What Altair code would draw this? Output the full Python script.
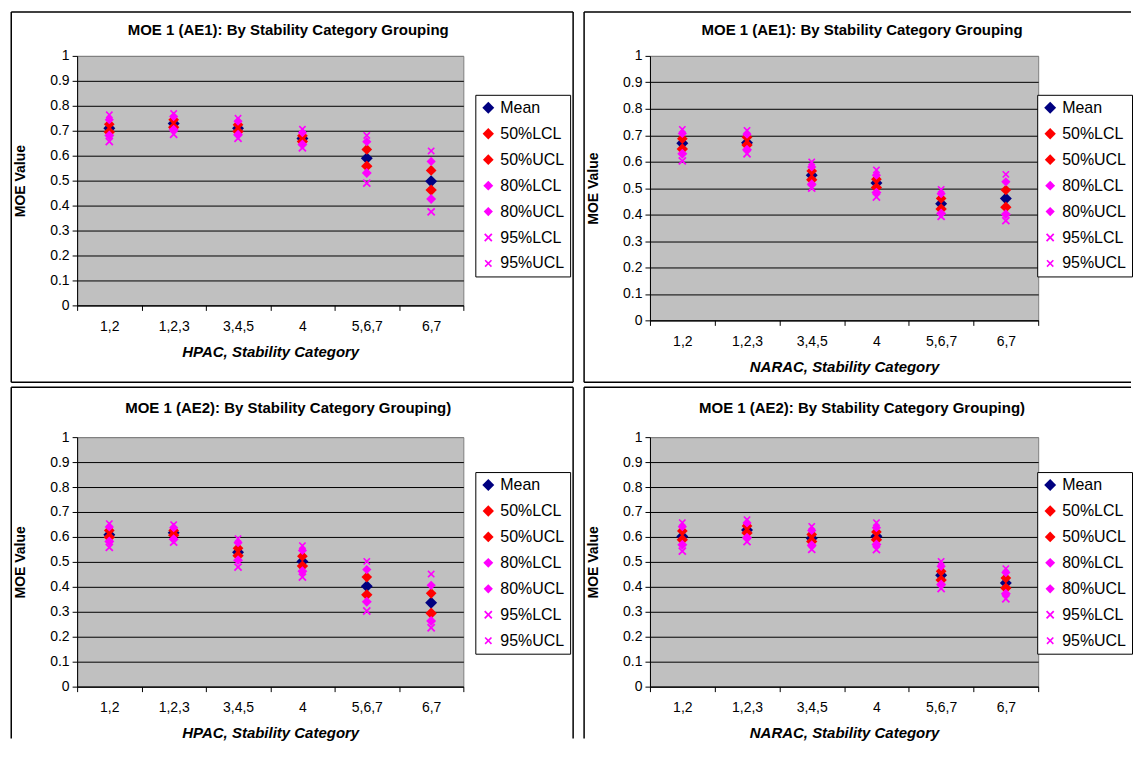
import altair as alt
import pandas as pd

CATS = ["1,2", "1,2,3", "3,4,5", "4", "5,6,7", "6,7"]
SERIES = ["Mean", "50%LCL", "50%UCL", "80%LCL", "80%UCL", "95%LCL", "95%UCL"]
COLORS = ["#000080", "#FF0000", "#FF0000", "#FF00FF", "#FF00FF", "#FF00FF", "#FF00FF"]
X_PATH = "M-0.7,-1L0,-0.3L0.7,-1L1,-0.7L0.3,0L1,0.7L0.7,1L0,0.3L-0.7,1L-1,0.7L-0.3,0L-1,-0.7Z"
SHAPES = ["diamond", "diamond", "diamond", "diamond", "diamond", X_PATH, X_PATH]
SIZES = [144, 56, 56, 28, 28, 36, 36]
Y_TICKS = [0, 0.1, 0.2, 0.3, 0.4, 0.5, 0.6, 0.7, 0.8, 0.9, 1]

HPAC_AE1 = {
    "Mean":   [0.710, 0.729, 0.710, 0.669, 0.590, 0.498],
    "50%LCL": [0.695, 0.714, 0.697, 0.657, 0.558, 0.462],
    "50%UCL": [0.726, 0.744, 0.724, 0.680, 0.625, 0.541],
    "80%LCL": [0.681, 0.704, 0.684, 0.645, 0.531, 0.426],
    "80%UCL": [0.744, 0.757, 0.738, 0.692, 0.656, 0.577],
    "95%LCL": [0.657, 0.686, 0.670, 0.632, 0.490, 0.375],
    "95%UCL": [0.764, 0.769, 0.750, 0.706, 0.681, 0.619],
}
NARAC_AE1 = {
    "Mean":   [0.670, 0.672, 0.549, 0.519, 0.441, 0.461],
    "50%LCL": [0.648, 0.663, 0.532, 0.502, 0.421, 0.428],
    "50%UCL": [0.687, 0.692, 0.565, 0.534, 0.461, 0.493],
    "80%LCL": [0.630, 0.645, 0.515, 0.483, 0.404, 0.401],
    "80%UCL": [0.707, 0.704, 0.580, 0.549, 0.479, 0.524],
    "95%LCL": [0.603, 0.630, 0.500, 0.466, 0.393, 0.377],
    "95%UCL": [0.722, 0.718, 0.599, 0.569, 0.495, 0.552],
}
HPAC_AE2 = {
    "Mean":   [0.609, 0.617, 0.539, 0.502, 0.402, 0.336],
    "50%LCL": [0.599, 0.607, 0.525, 0.483, 0.368, 0.294],
    "50%UCL": [0.626, 0.626, 0.555, 0.523, 0.439, 0.374],
    "80%LCL": [0.582, 0.591, 0.507, 0.462, 0.340, 0.263],
    "80%UCL": [0.640, 0.637, 0.577, 0.546, 0.469, 0.406],
    "95%LCL": [0.558, 0.579, 0.479, 0.439, 0.303, 0.236],
    "95%UCL": [0.653, 0.649, 0.593, 0.565, 0.502, 0.451],
}
NARAC_AE2 = {
    "Mean":   [0.602, 0.628, 0.595, 0.603, 0.446, 0.415],
    "50%LCL": [0.589, 0.616, 0.582, 0.589, 0.427, 0.395],
    "50%UCL": [0.624, 0.644, 0.610, 0.620, 0.462, 0.435],
    "80%LCL": [0.569, 0.597, 0.567, 0.570, 0.409, 0.372],
    "80%UCL": [0.641, 0.656, 0.626, 0.637, 0.482, 0.457],
    "95%LCL": [0.543, 0.581, 0.550, 0.549, 0.393, 0.352],
    "95%UCL": [0.657, 0.669, 0.642, 0.657, 0.502, 0.473],
}

FONT = "Liberation Sans"
ONE = pd.DataFrame({"k": [0]})


def seg(x0, x1, y0, y1):
    return alt.Chart(ONE).mark_rule(color="black", strokeWidth=1.5).encode(
        x=alt.value(x0), x2=alt.value(x1), y=alt.value(y0), y2=alt.value(y1)
    )


def panel(data, title, xtitle, w, h, title_y, legend_x, legend_y, frame):
    rows = []
    for i, s in enumerate(SERIES):
        for c, v in zip(CATS, data[s]):
            rows.append({"cat": c, "series": s, "value": v, "ord": i})
    df = pd.DataFrame(rows)

    leg = alt.Legend(
        title=None, orient="none", legendX=legend_x, legendY=legend_y,
        strokeColor="black", fillColor="white", padding=5,
        labelFontSize=16, labelFont=FONT, labelColor="black",
        rowPadding=10, labelOffset=4, symbolStrokeWidth=0,
    )
    pts = alt.Chart(df).mark_point(filled=True, opacity=1, strokeWidth=0).encode(
        x=alt.X(
            "cat:N", sort=CATS, title=xtitle,
            scale=alt.Scale(type="band", paddingInner=0, paddingOuter=0),
            axis=alt.Axis(
                tickBand="extent", labelAngle=0, labelFontSize=14, labelPadding=9,
                tickSize=5, tickColor="black", domainColor="black", grid=False,
                titleFontSize=15, titleFontWeight="bold", titleFontStyle="italic",
                titlePadding=11, labelColor="black", titleColor="black",
            ),
        ),
        y=alt.Y(
            "value:Q", title="MOE Value",
            scale=alt.Scale(domain=[0, 1], nice=False, zero=True),
            axis=alt.Axis(
                values=Y_TICKS, format="~g", grid=True,
                gridColor={"condition": {"test": "datum.value >= 1", "value": "#808080"},
                           "value": "black"},
                gridWidth=1, tickSize=5, tickColor="black", domainColor="black",
                labelFontSize=14, labelPadding=3, labelColor="black",
                titleFontSize=14, titleFontWeight="bold", titlePadding=22,
                titleColor="black",
            ),
        ),
        color=alt.Color("series:N", scale=alt.Scale(domain=SERIES, range=COLORS), legend=leg),
        shape=alt.Shape("series:N", scale=alt.Scale(domain=SERIES, range=SHAPES), legend=leg),
        size=alt.Size("series:N", scale=alt.Scale(domain=SERIES, range=SIZES), legend=leg),
        order=alt.Order("ord:Q"),
    )
    fx0, fx1, fy0, fy1, right, bottom = frame
    layers = [seg(fx0, fx0, fy0, fy1), seg(fx0, fx1, fy0, fy0)]
    if right:
        layers.append(seg(fx1, fx1, fy0, fy1))
    if bottom:
        layers.append(seg(fx0, fx1, fy1, fy1))
    ttl = alt.Chart(ONE).mark_text(
        font=FONT, fontSize=15, fontWeight="bold", align="center",
        baseline="middle", color="black",
    ).encode(x=alt.value(w / 2 + 18), y=alt.value(title_y), text=alt.value(title))
    layers += [ttl, pts]
    return alt.layer(*layers).properties(width=w, height=h)


p1 = panel(HPAC_AE1, "MOE 1 (AE1): By Stability Category Grouping",
           "HPAC, Stability Category", 387, 250, -26, 399, 39,
           (-66, 497, -44, 327, True, True))
p2 = panel(NARAC_AE1, "MOE 1 (AE1): By Stability Category Grouping",
           "NARAC, Stability Category", 389, 265, -26, 388, 39,
           (-66, 482, -44, 327, False, True))
p3 = panel(HPAC_AE2, "MOE 1 (AE2): By Stability Category Grouping)",
           "HPAC, Stability Category", 387, 250, -29, 399, 35,
           (-66, 497, -50, 302, True, False))
p4 = panel(NARAC_AE2, "MOE 1 (AE2): By Stability Category Grouping)",
           "NARAC, Stability Category", 389, 250, -29, 388, 35,
           (-66, 482, -50, 302, False, False))

chart = alt.concat(
    p1, p2, p3, p4, columns=2, spacing={"row": 117, "column": 185},
    bounds="flush", align="all",
).resolve_scale(
    color="independent", shape="independent", size="independent"
).resolve_legend(
    color="independent", shape="independent", size="independent"
).properties(
    padding={"left": 1.25, "top": 1.25, "right": 0, "bottom": 0},
).configure(font=FONT).configure_view(
    fill="#C0C0C0", stroke="#808080", strokeWidth=1
).configure_axis(labelFont=FONT, titleFont=FONT)

chart.save("out.html", embed_options={"renderer": "svg", "actions": False})
